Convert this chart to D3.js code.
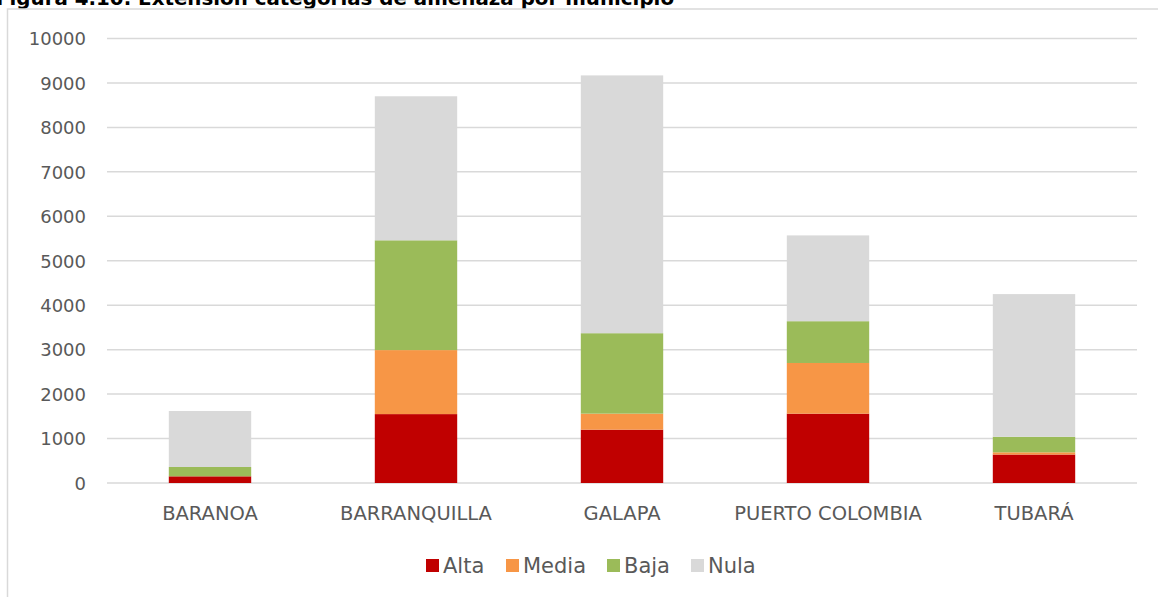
<!DOCTYPE html>
<html>
<head>
<meta charset="utf-8">
<script src="https://cdn.jsdelivr.net/npm/d3@7"></script>
<style>
  html, body { margin: 0; padding: 0; background: #fff; }
  svg { display: block; }
  text { font-family: "DejaVu Sans", sans-serif; }
</style>
</head>
<body>
<svg id="chart" width="1158" height="597"></svg>
<script>
// Threat-category extent per municipality
const municipios = ["BARANOA", "BARRANQUILLA", "GALAPA", "PUERTO COLOMBIA", "TUBARÁ"];
const categorias = ["Alta", "Media", "Baja", "Nula"];
const alta  = [150, 1550, 1200, 1560, 640];
const media = [0, 1440, 360, 1140, 50];
const baja  = [210, 2470, 1810, 940, 350];
const nula  = [1260, 3240, 5800, 1930, 3210];
const yTicks = [0, 1000, 2000, 3000, 4000, 5000, 6000, 7000, 8000, 9000, 10000];
const colores = ["#C00000", "#F79646", "#9BBB59", "#D9D9D9"];
const titulo = "Figura 4.10. Extensión categorías de amenaza por municipio";

const rows = municipios.map((m, i) => ({
  municipio: m, Alta: alta[i], Media: media[i], Baja: baja[i], Nula: nula[i]
}));

const svg = d3.select("#chart");
const plotLeft = 107, plotRight = 1137, plotTop = 38.5, plotBottom = 483;

const x = d3.scaleBand().domain(municipios).range([plotLeft, plotRight])
  .paddingInner(0.6).paddingOuter(0.3);
const y = d3.scaleLinear().domain([0, 10000]).range([plotBottom, plotTop]);
const color = d3.scaleOrdinal().domain(categorias).range(colores);

// title (partly above the page edge)
svg.append("text")
  .attr("x", -4).attr("y", 5)
  .attr("font-family", "Liberation Sans, Arial, sans-serif")
  .attr("font-weight", "bold").attr("font-size", 19)
  .attr("fill", "#000")
  .attr("textLength", 678).attr("lengthAdjust", "spacingAndGlyphs")
  .text(titulo);

// chart frame
svg.append("rect")
  .attr("x", 7.5).attr("y", 9).attr("width", 1200).attr("height", 700)
  .attr("fill", "none").attr("stroke", "#D9D9D9").attr("stroke-width", 1.5);

// gridlines
svg.append("g").selectAll("line").data(yTicks).join("line")
  .attr("x1", plotLeft).attr("x2", plotRight)
  .attr("y1", d => y(d)).attr("y2", d => y(d))
  .attr("stroke", "#D9D9D9").attr("stroke-width", 1.5);

// y axis labels
const yAxis = d3.axisLeft(y).tickValues(yTicks).tickSize(0).tickPadding(0).tickFormat(d3.format("d"));
const gy = svg.append("g").attr("transform", "translate(86,0)").call(yAxis);
gy.select(".domain").remove();
gy.selectAll("text").attr("font-size", 18).attr("fill", "#595959")
  .attr("font-family", "DejaVu Sans, sans-serif").attr("dy", "0.35em");

// stacked bars
const series = d3.stack().keys(categorias)(rows);
svg.append("g").selectAll("g").data(series).join("g")
  .attr("fill", d => color(d.key))
  .selectAll("rect").data(d => d).join("rect")
  .attr("x", d => x(d.data.municipio))
  .attr("width", x.bandwidth())
  .attr("y", d => y(d[1]))
  .attr("height", d => Math.max(0, y(d[0]) - y(d[1])));

// x axis labels
const xAxis = d3.axisBottom(x).tickSize(0).tickPadding(0);
const gx = svg.append("g").attr("transform", "translate(0,513)").call(xAxis);
gx.select(".domain").remove();
gx.selectAll("text").attr("font-size", 19.5).attr("fill", "#595959")
  .attr("font-family", "DejaVu Sans, sans-serif").attr("dy", "0.35em");

// legend
const legendX = [426, 506, 607, 691];
const lg = svg.append("g").selectAll("g").data(categorias).join("g")
  .attr("transform", (d, i) => `translate(${legendX[i]},559)`);
lg.append("rect").attr("width", 13).attr("height", 13).attr("fill", d => color(d));
lg.append("text").attr("x", 17).attr("y", 6.5).attr("dy", "0.35em")
  .attr("font-size", 21).attr("fill", "#595959").text(d => d);
</script>
</body>
</html>
